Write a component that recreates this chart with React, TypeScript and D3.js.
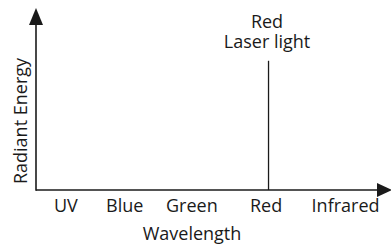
import React from "react";
import * as d3 from "d3";

// Categories along the wavelength axis (relative wavelength position 0..100)
const categories = ["UV", "Blue", "Green", "Red", "Infrared"];
const categoryWavelength = [8.4, 25, 43.9, 64.8, 87.2];

// Single laser line
const laserLabel = ["Red", "Laser light"];
const laserWavelength = [65.5];
const laserEnergy = [0.71];

const xTitle = "Wavelength";
const yTitle = "Radiant Energy";

const W = 391;
const H = 245;
const FONT = "'Open Sans', sans-serif";
const INK = "#1a1a1a";

export default function App() {
  const originX = 36;
  const originY = 190;
  const x = d3.scaleLinear().domain([0, 100]).range([originX, 391]);
  const y = d3.scaleLinear().domain([0, 1]).range([originY, 8]);

  const xEnd = x(100) + 1;
  const yEnd = y(1);
  const ah = 15; // arrow length
  const aw = 7; // arrow half width

  const laserX = x(laserWavelength[0]);

  return (
    <svg
      width={W}
      height={H}
      style={{ position: "absolute", left: 0, top: 0, background: "#fff" }}
    >
      {/* axes */}
      <line x1={originX} y1={originY} x2={xEnd - ah + 2} y2={originY} stroke={INK} strokeWidth={1.6} />
      <line x1={originX} y1={originY + 0.8} x2={originX} y2={yEnd + ah - 2} stroke={INK} strokeWidth={1.6} />
      <path
        d={`M${xEnd},${originY} L${xEnd - ah},${originY - aw} L${xEnd - ah},${originY + aw} Z`}
        fill={INK}
      />
      <path
        d={`M${originX},${yEnd} L${originX - aw},${yEnd + ah + 2} L${originX + aw},${yEnd + ah + 2} Z`}
        fill={INK}
      />

      {/* category labels */}
      {categories.map((c, i) => (
        <text
          key={c}
          x={x(categoryWavelength[i])}
          y={originY + 22}
          textAnchor="middle"
          fontFamily={FONT}
          fontSize={18}
          fill={INK}
        >
          {c}
        </text>
      ))}

      {/* laser line */}
      <line
        x1={laserX}
        y1={originY}
        x2={laserX}
        y2={y(laserEnergy[0])}
        stroke={INK}
        strokeWidth={1.3}
      />
      {laserLabel.map((t, i) => (
        <text
          key={t}
          x={laserX - 1.5}
          y={28 + i * 20}
          textAnchor="middle"
          fontFamily={FONT}
          fontSize={18}
          fill={INK}
        >
          {t}
        </text>
      ))}

      {/* axis titles */}
      <text
        x={192}
        y={240}
        textAnchor="middle"
        fontFamily={FONT}
        fontSize={18}
        fill={INK}
      >
        {xTitle}
      </text>
      <text
        transform={`translate(27,121) rotate(-90)`}
        textAnchor="middle"
        fontFamily={FONT}
        fontSize={18}
        fill={INK}
      >
        {yTitle}
      </text>
    </svg>
  );
}
